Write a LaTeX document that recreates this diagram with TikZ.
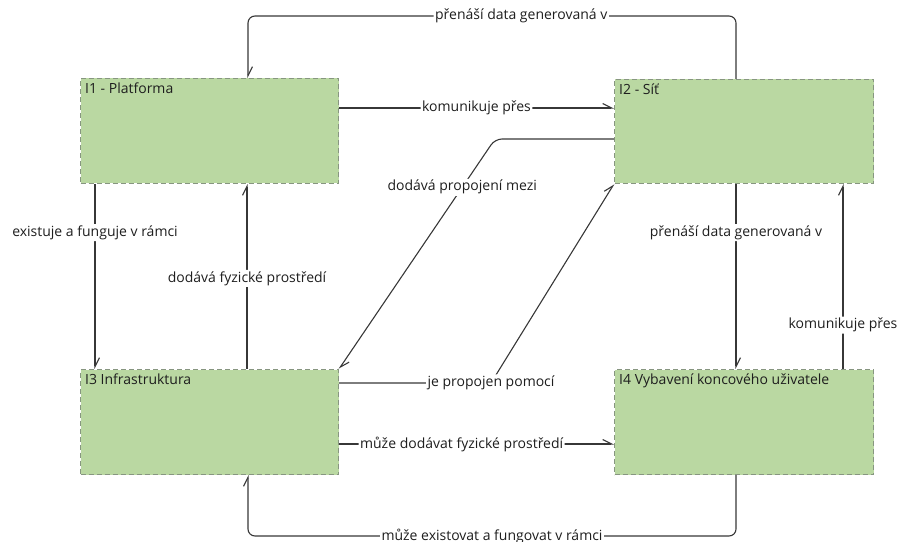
\documentclass[tikz,border=0pt]{standalone}
\usepackage{fontspec}
\setmainfont{Open Sans}
\usetikzlibrary{arrows.meta}
\definecolor{boxfill}{RGB}{186,216,162}
\definecolor{boxline}{RGB}{135,150,128}
\definecolor{conncol}{RGB}{55,55,55}
\definecolor{txtcol}{RGB}{30,30,30}
\tikzset{
  entity/.style={draw=boxline, fill=boxfill, dashed, dash pattern=on 5pt off 3pt, line width=1pt,
    rectangle, anchor=north west, inner sep=0pt},
  conn/.style={draw=conncol, line width=1.1pt, rounded corners=7pt,
    -{Straight Barb[harpoon,length=9pt,width=9pt,line width=1.1pt]}},
  lbl/.style={fill=white, inner sep=1.5pt, text=txtcol, font=\fontsize{14}{16}\selectfont},
  ttl/.style={anchor=north west, inner sep=0pt, text=txtcol, font=\fontsize{14}{16}\selectfont}
}
\begin{document}
\begin{tikzpicture}[x=1pt,y=1pt]
\useasboundingbox (0,0) rectangle (901,541);
% boxes
\node[entity, minimum width=258pt, minimum height=105pt] (I1) at (80,463) {};
\node[entity, minimum width=259pt, minimum height=104pt] (I2) at (614,462) {};
\node[entity, minimum width=258pt, minimum height=105pt] (I3) at (80,172) {};
\node[entity, minimum width=259pt, minimum height=105pt] (I4) at (614,172) {};
\node[ttl] (t1) at ([xshift=5pt,yshift=-5pt]I1.north west) {I1 - Platforma};
\node[ttl] (t2) at ([xshift=5pt,yshift=-5pt]I2.north west) {I2 - Síť};
\node[ttl] (t3) at ([xshift=5pt,yshift=-5pt]I3.north west) {I3 Infrastruktura};
\node[ttl] (t4) at ([xshift=5pt,yshift=-5pt]I4.north west) {I4 Vybavení koncového uživatele};
% route coordinates
\coordinate (ta) at (736,525);
\coordinate (tb) at (248,525);
\coordinate (ba) at (736,5);
\coordinate (bb) at (248,5);
\coordinate (h1) at (0,433);
\coordinate (h2) at (0,97);
\coordinate (d1) at (495,402);
\coordinate (d2) at (491,158);
\coordinate (vA) at (95,0);
\coordinate (vB) at (247,0);
\coordinate (vC) at (736,0);
\coordinate (vD) at (843,0);
% connectors
\draw[conn] (I2.north -| ta) -- (ta) -- node[lbl,pos=0.44]{přenáší data generovaná v} (tb) -- (I1.north -| tb);
\draw[conn] (I1.east |- h1) -- node[lbl,pos=0.5]{komunikuje přes} (I2.west |- h1);
\draw[conn] (I2.west |- d1) -- (d1) -- node[lbl,pos=0.21]{dodává propojení mezi} (I3.north east);
\draw[conn] (I3.east |- d2) -- (d2) node[lbl]{je propojen pomocí} -- (I2.south west);
\draw[conn] (I3.east |- h2) -- node[lbl,pos=0.446]{může dodávat fyzické prostředí} (I4.west |- h2);
\draw[conn] (I4.south -| ba) -- (ba) -- node[lbl,pos=0.5]{může existovat a fungovat v rámci} (bb) -- (I3.south -| bb);
\draw[conn] (I1.south -| vA) -- node[lbl,pos=0.263]{existuje a funguje v rámci} (I3.north -| vA);
\draw[conn] (I3.north -| vB) -- node[lbl,pos=0.49]{dodává fyzické prostředí} (I1.south -| vB);
\draw[conn] (I2.south -| vC) -- node[lbl,pos=0.263]{přenáší data generovaná v} (I4.north -| vC);
\draw[conn] (I4.north -| vD) -- node[lbl,pos=0.237]{komunikuje přes} (I2.south -| vD);
\end{tikzpicture}
\end{document}
